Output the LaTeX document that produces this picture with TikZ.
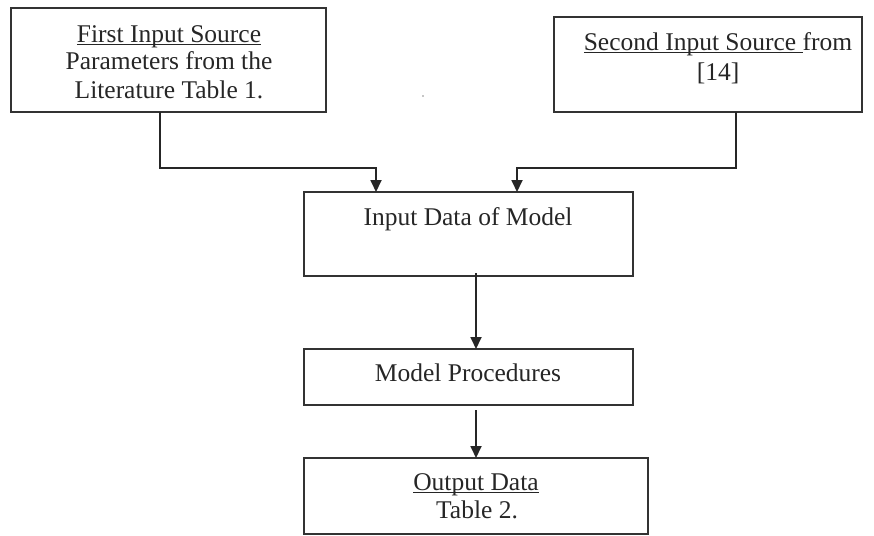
\documentclass[tikz,border=0pt]{standalone}
\usepackage{fontspec}
\setmainfont{Liberation Serif}
\usetikzlibrary{arrows.meta}
\newcommand\myul[1]{\setbox0\hbox{#1}\rlap{\rule[-3pt]{\wd0}{1.2pt}}\box0}
\begin{document}
\begin{tikzpicture}[x=1pt,y=-1pt,
  box/.style={draw=black!80,line width=1.8pt,rectangle,inner sep=0pt,outer sep=0pt},
  txt/.style={anchor=base,inner sep=0pt,font=\fontsize{25.5}{28}\selectfont,text=black!85},
  arr/.style={draw=black!85,line width=1.8pt,-{Triangle[width=11pt,length=12pt]}},
  ln/.style={draw=black!85,line width=1.8pt}]
\useasboundingbox (0,0) rectangle (874,535);
% boxes
\node[box,minimum width=315pt,minimum height=104pt] (b1) at (168.5,60) {};
\node[box,minimum width=308pt,minimum height=95pt] (b2) at (708,64.5) {};
\node[box,minimum width=329pt,minimum height=84pt] (in) at (468.5,234) {};
\node[box,minimum width=329pt,minimum height=56pt] (mp) at (468.5,377) {};
\node[box,minimum width=344pt,minimum height=76pt] (out) at (476,496) {};
% texts
\node[txt] (t1a) at (169,42) {\myul{First Input Source}};
\node[txt] (t1b) at (169,70) {Parameters from the};
\node[txt] (t1c) at (169,98) {Literature Table 1.};
\node[txt] (t2a) at (718,50) {\myul{Second Input Source }from};
\node[txt] (t2b) at (718,80) {[14]};
\node[txt] (t3) at (468,225) {Input Data of Model};
\node[txt] (t4) at (468,381) {Model Procedures};
\node[txt] (t5a) at (476,490) {\myul{Output Data}};
\node[txt] (t5b) at (477,518) {Table 2.};
% stray dot
\fill[black!45] (423,96) circle (0.8pt);
% connectors
\draw[arr] ([xshift=-8.5pt]b1.south) -- ++(0,56) -| ([xshift=-92.5pt]in.north);
\draw[arr] ([xshift=28pt]b2.south) -- ++(0,56) -| ([xshift=48.5pt]in.north);
\draw[arr] ([xshift=7.5pt,yshift=3pt]in.south) -- ([xshift=7.5pt]mp.north);
\draw[arr] ([xshift=7.5pt,yshift=-5pt]mp.south) -- (out.north);
\end{tikzpicture}
\end{document}
